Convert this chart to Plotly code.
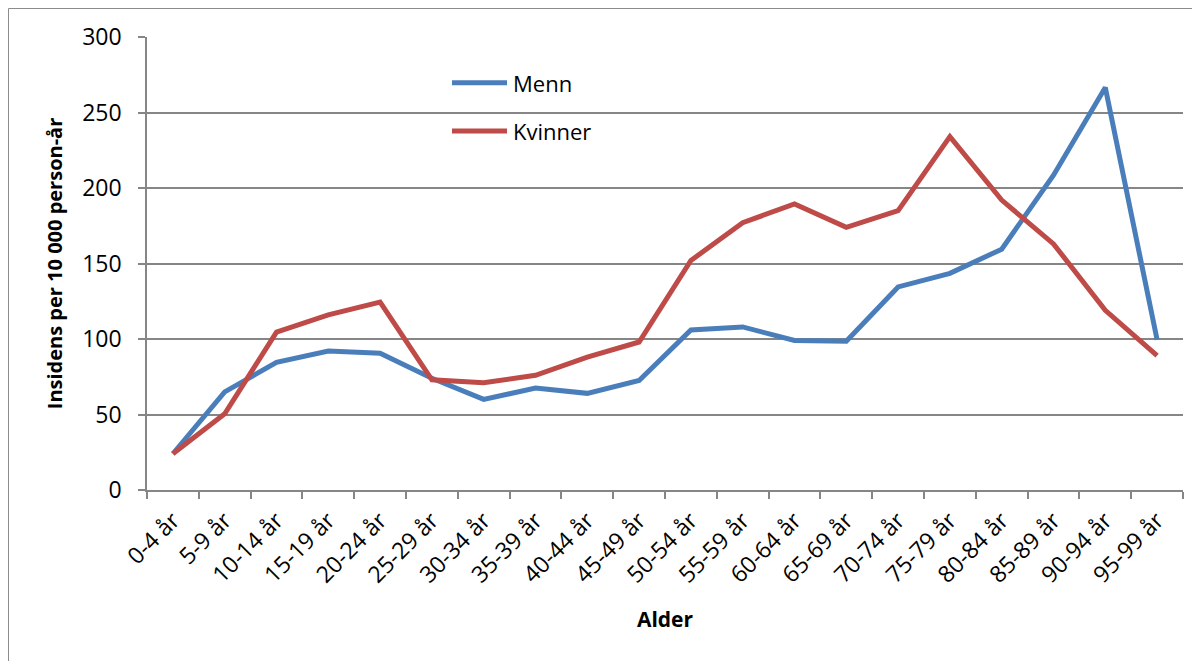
import plotly.graph_objects as go

categories = ["0-4 år", "5-9 år", "10-14 år", "15-19 år", "20-24 år", "25-29 år",
              "30-34 år", "35-39 år", "40-44 år", "45-49 år", "50-54 år", "55-59 år",
              "60-64 år", "65-69 år", "70-74 år", "75-79 år", "80-84 år", "85-89 år",
              "90-94 år", "95-99 år"]
menn = [24, 65, 84.5, 92, 90.5, 74, 60, 67.5, 64, 72.5, 106, 108, 99, 98.5,
        134.5, 143.5, 159.5, 208.5, 266.5, 99.5]
kvinner = [24, 50.5, 104.5, 116, 124.5, 73, 71, 76, 88, 98, 152, 177, 189.5,
           174, 185, 234, 192, 163, 119, 89]
series_names = ["Menn", "Kvinner"]
colors = ["#4A7EBB", "#BE4B48"]
y_ticks = [0, 50, 100, 150, 200, 250, 300]

FONT = "Open Sans"
GRID = "#868686"

fig = go.Figure()
for name, vals, col in zip(series_names, [menn, kvinner], colors):
    fig.add_trace(go.Scatter(x=categories, y=vals, mode="lines", name=name,
                             line=dict(color=col, width=5), showlegend=False))

# custom legend (line sample + label)
leg_y = [0.899, 0.7925]
for name, col, ly in zip(series_names, colors, leg_y):
    fig.add_shape(type="line", xref="paper", yref="paper", x0=0.2944, x1=0.3475,
                  y0=ly, y1=ly, line=dict(color=col, width=5))
    fig.add_annotation(xref="paper", yref="paper", x=0.3515, y=ly, text=name,
                       showarrow=False, xanchor="left", yanchor="middle",
                       font=dict(family=FONT, size=22, color="black"))

# outer chart border (top and left visible)
fig.add_shape(type="line", xref="paper", yref="paper", x0=-0.1337, x1=1.1,
              y0=1.0629, y1=1.0629, line=dict(color="#8c8c8c", width=1))
fig.add_shape(type="line", xref="paper", yref="paper", x0=-0.1337, x1=-0.1337,
              y0=1.0629, y1=-0.5, line=dict(color="#8c8c8c", width=1))

fig.update_layout(
    width=1200, height=661,
    margin=dict(l=139, r=25, t=29, b=179),
    paper_bgcolor="white", plot_bgcolor="white",
    font=dict(family=FONT, color="black"),
)
fig.update_xaxes(
    type="category", range=[-0.5, len(categories) - 0.5],
    tickangle=-45, tickson="boundaries",
    ticks="outside", ticklen=7, tickcolor=GRID, tickwidth=1.5,
    showline=True, linecolor=GRID, linewidth=1.5,
    showgrid=False, ticklabelstandoff=6,
    tickfont=dict(family=FONT, size=23, color="black"),
    title=dict(text="<b>Alder</b>", font=dict(family=FONT, size=21, color="black"), standoff=24),
)
fig.update_yaxes(
    range=[0, 300], tickvals=y_ticks,
    ticks="outside", ticklen=7, tickcolor=GRID, tickwidth=1.5,
    showline=True, linecolor=GRID, linewidth=1.5,
    showgrid=True, gridcolor=GRID, gridwidth=1.5, zeroline=False,
    ticklabelstandoff=12,
    tickfont=dict(family=FONT, size=23, color="black"),
    title=dict(text="<b>Insidens per 10 000 person-år</b>",
               font=dict(family=FONT, size=20, color="black"), standoff=14),
)

fig.write_html("out.html")
